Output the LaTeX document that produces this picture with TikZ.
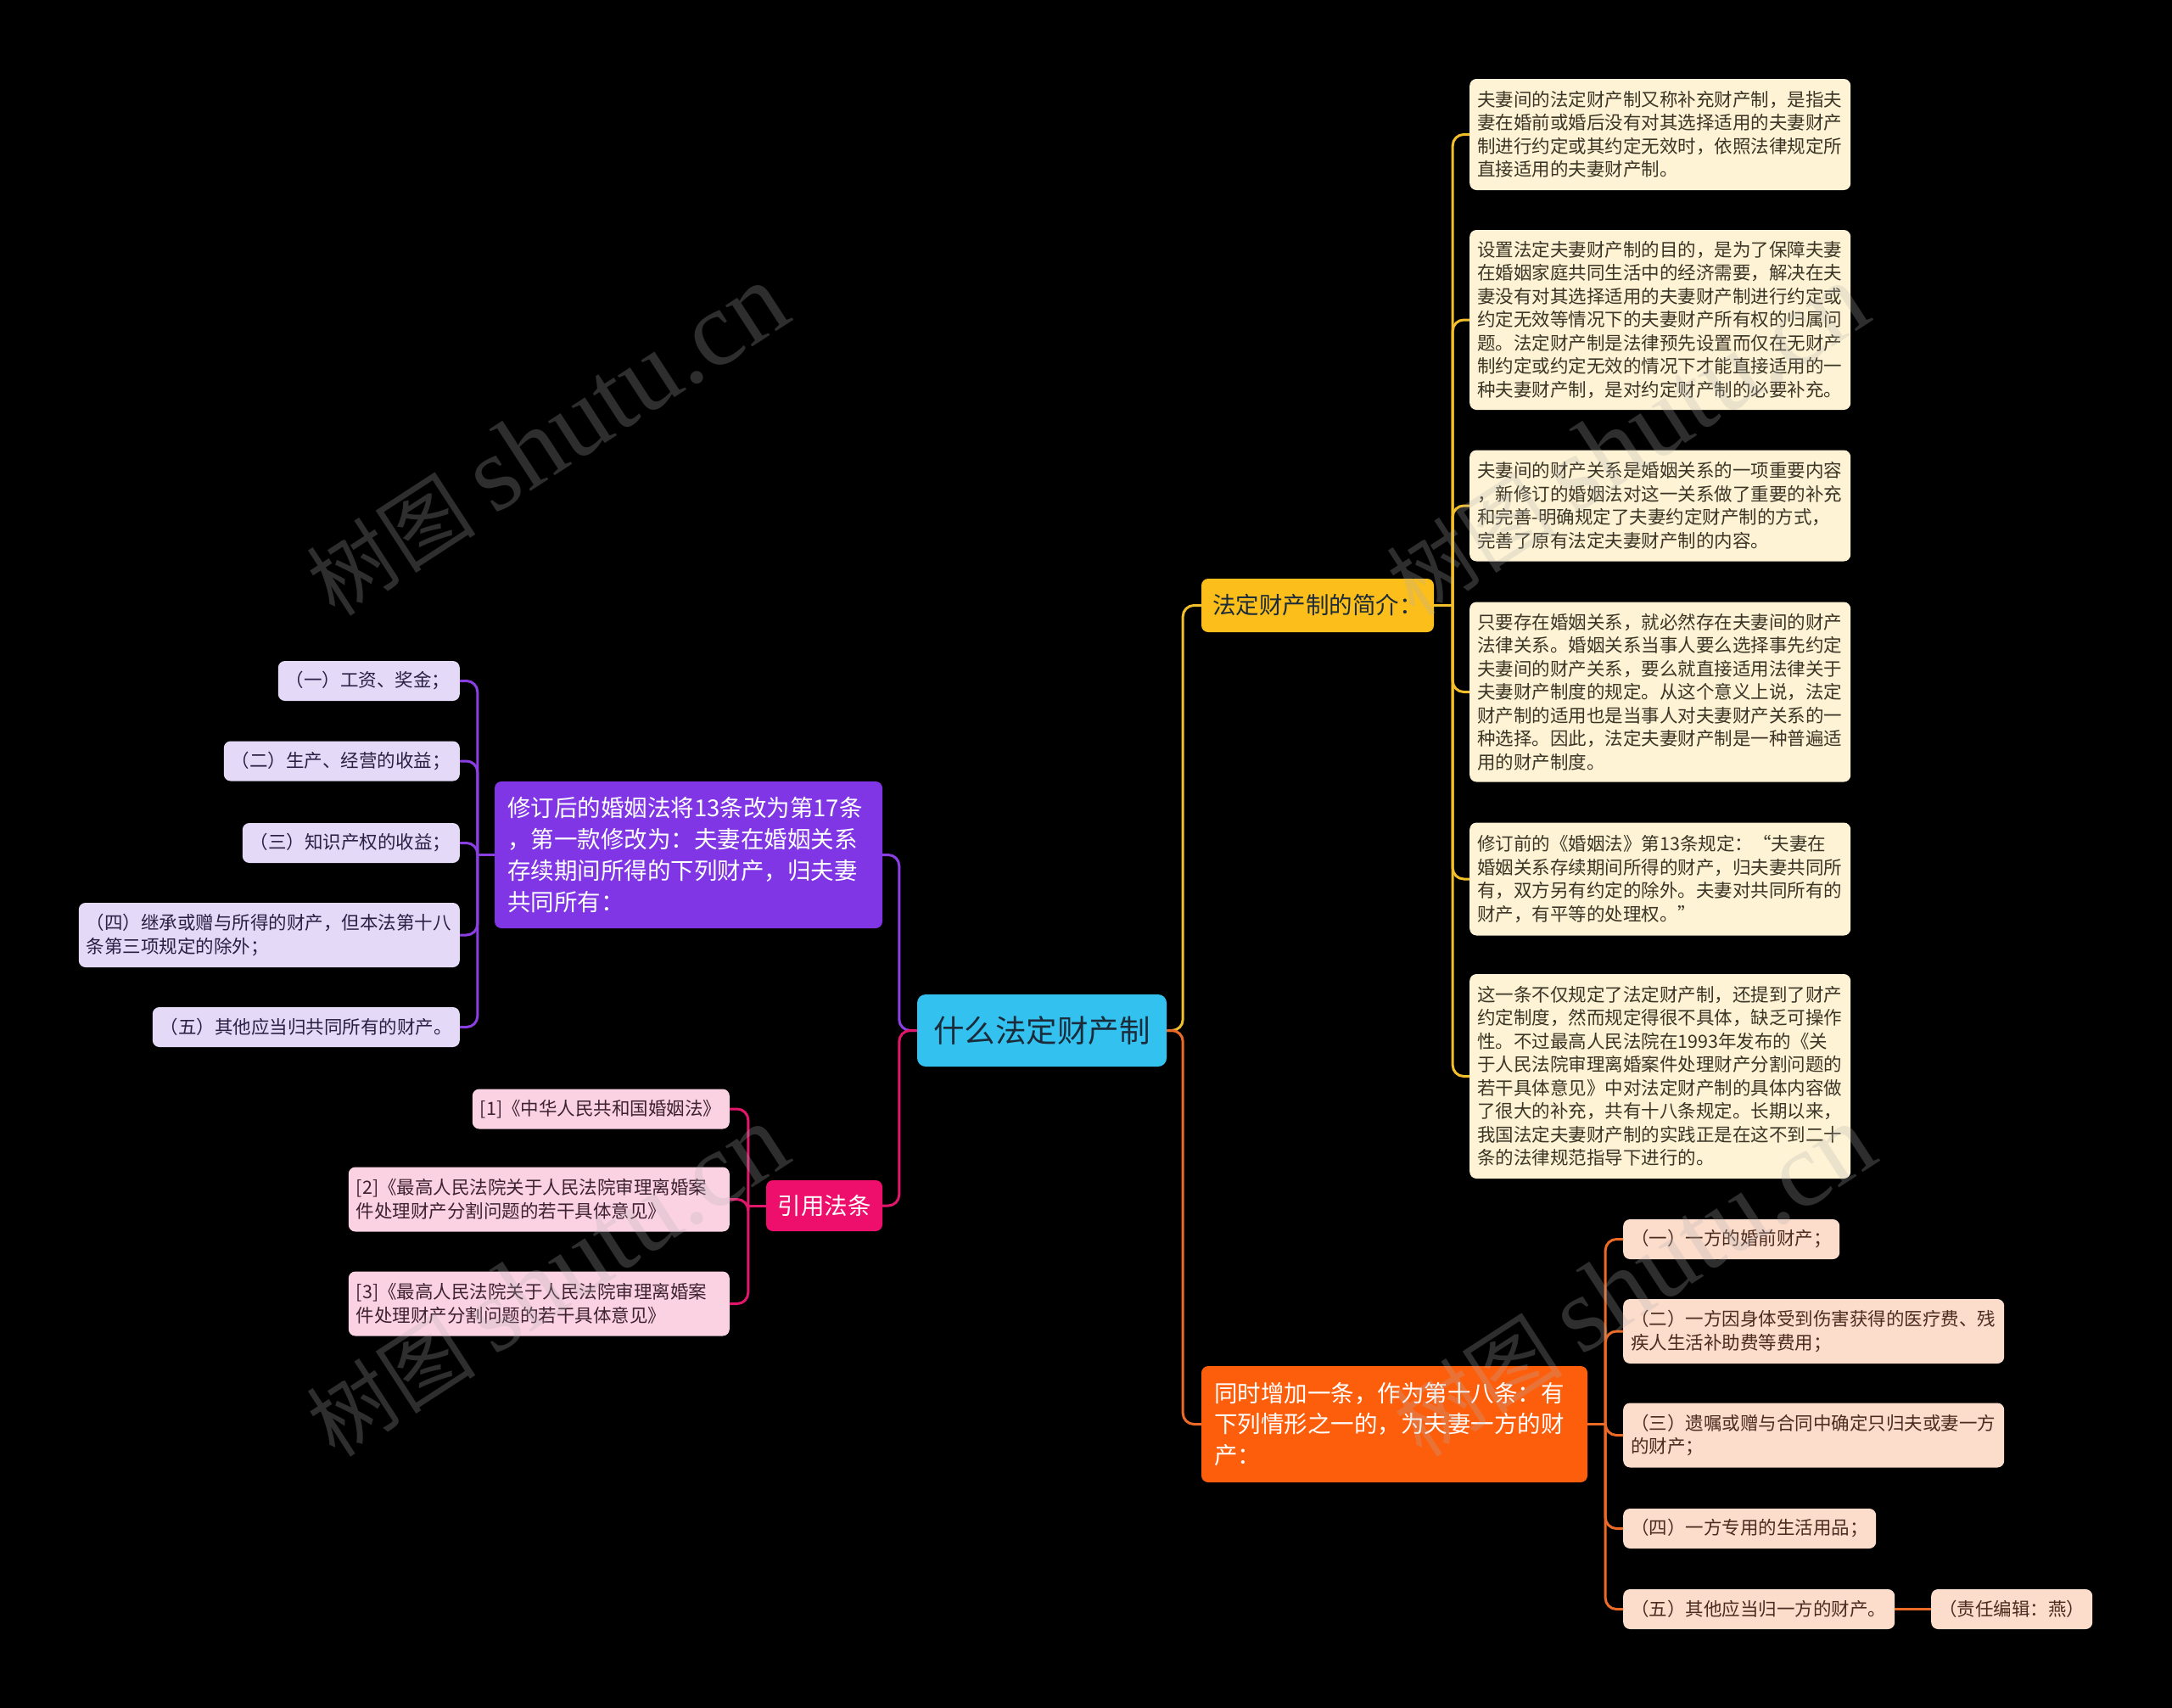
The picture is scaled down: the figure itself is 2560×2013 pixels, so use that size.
\documentclass[tikz,border=0pt]{standalone}
\usepackage{fontspec}
\setmainfont{Noto Sans CJK SC}
\newfontfamily\wmlat{Liberation Serif}
\newfontfamily\wmcjk{Noto Sans CJK SC}
\definecolor{cRoot}{HTML}{33C2F0}
\definecolor{cRootT}{HTML}{1B2B3A}
\definecolor{cYel}{HTML}{FBBE1A}
\definecolor{cYelL}{HTML}{FEF3D5}
\definecolor{cYelLine}{HTML}{F2BF2A}
\definecolor{cYelT}{HTML}{3B3526}
\definecolor{cOra}{HTML}{FD5E0C}
\definecolor{cOraL}{HTML}{FCDCCB}
\definecolor{cOraLine}{HTML}{EC6A28}
\definecolor{cOraT}{HTML}{4A2C20}
\definecolor{cPur}{HTML}{8036E4}
\definecolor{cPurL}{HTML}{E4D9F6}
\definecolor{cPurLine}{HTML}{8B3FE3}
\definecolor{cPurT}{HTML}{2C1F45}
\definecolor{cPnk}{HTML}{EE0E6B}
\definecolor{cPnkL}{HTML}{FBD2E2}
\definecolor{cPnkLine}{HTML}{E2176C}
\definecolor{cPnkT}{HTML}{3E2230}
\tikzset{
  leaf/.style={rounded corners=8pt, inner xsep=9pt, inner ysep=0pt, align=left,
    font=\fontsize{21.5}{27.5}\selectfont},
  mainbox/.style={rounded corners=8pt, inner xsep=15pt, inner ysep=0pt, align=left,
    font=\fontsize{27.5}{36.7}\selectfont},
  conn/.style={line width=3pt, rounded corners=13pt},
  wm/.style={text=gray!60, opacity=0.26, inner sep=0pt}
}
\begin{document}
\begin{tikzpicture}[x=1pt,y=-1pt]
\fill[black] (0,0) rectangle (2560,2013);
\useasboundingbox (0,0) rectangle (2560,2013);

% root
\node[fill=cRoot, text=cRootT, rounded corners=10pt, minimum width=294pt, minimum height=85pt, inner sep=0pt, font=\fontsize{36.5}{44}\selectfont] (root) at (1228,1214.5) {什么法定财产制};

% level 1
\node[mainbox, fill=cYel, text=cRootT, minimum width=274pt, minimum height=63pt, align=center, inner xsep=0pt] (yl1) at (1553,713.5) {法定财产制的简介：};
\node[mainbox, fill=cOra, text=white, text width=425pt, minimum height=137pt] (ol1) at (1643.5,1678.5) {同时增加一条，作为第十八条：有\\下列情形之一的，为夫妻一方的财\\产：};
\node[mainbox, fill=cPur, text=white, text width=427pt, minimum height=173pt] (pl1) at (811.5,1007.5) {修订后的婚姻法将13条改为第17条\\，第一款修改为：夫妻在婚姻关系\\存续期间所得的下列财产，归夫妻\\共同所有：};
\node[mainbox, fill=cPnk, text=white, minimum width=137pt, minimum height=60pt, align=center, inner xsep=0pt] (pk1) at (971.5,1421) {引用法条};

% yellow children
\begin{scope}[every node/.style={leaf, fill=cYelL, text=cYelT, text width=431pt, anchor=west}]
\node[minimum height=131pt] (y1) at (1732,158.5) {夫妻间的法定财产制又称补充财产制，是指夫\\妻在婚前或婚后没有对其选择适用的夫妻财产\\制进行约定或其约定无效时，依照法律规定所\\直接适用的夫妻财产制。};
\node[minimum height=212pt] (y2) at (1732,377) {设置法定夫妻财产制的目的，是为了保障夫妻\\在婚姻家庭共同生活中的经济需要，解决在夫\\妻没有对其选择适用的夫妻财产制进行约定或\\约定无效等情况下的夫妻财产所有权的归属问\\题。法定财产制是法律预先设置而仅在无财产\\制约定或约定无效的情况下才能直接适用的一\\种夫妻财产制，是对约定财产制的必要补充。};
\node[minimum height=131pt] (y3) at (1732,596) {夫妻间的财产关系是婚姻关系的一项重要内容\\，新修订的婚姻法对这一关系做了重要的补充\\和完善-明确规定了夫妻约定财产制的方式，\\完善了原有法定夫妻财产制的内容。};
\node[minimum height=212pt] (y4) at (1732,815.5) {只要存在婚姻关系，就必然存在夫妻间的财产\\法律关系。婚姻关系当事人要么选择事先约定\\夫妻间的财产关系，要么就直接适用法律关于\\夫妻财产制度的规定。从这个意义上说，法定\\财产制的适用也是当事人对夫妻财产关系的一\\种选择。因此，法定夫妻财产制是一种普遍适\\用的财产制度。};
\node[minimum height=133pt] (y5) at (1732,1036) {修订前的《婚姻法》第13条规定：“夫妻在\\婚姻关系存续期间所得的财产，归夫妻共同所\\有，双方另有约定的除外。夫妻对共同所有的\\财产，有平等的处理权。”};
\node[minimum height=241pt] (y6) at (1732,1268.5) {这一条不仅规定了法定财产制，还提到了财产\\约定制度，然而规定得很不具体，缺乏可操作\\性。不过最高人民法院在1993年发布的《关\\于人民法院审理离婚案件处理财产分割问题的\\若干具体意见》中对法定财产制的具体内容做\\了很大的补充，共有十八条规定。长期以来，\\我国法定夫妻财产制的实践正是在这不到二十\\条的法律规范指导下进行的。};
\end{scope}

% orange children
\begin{scope}[every node/.style={leaf, fill=cOraL, text=cOraT, anchor=west}]
\node[text width=237pt, minimum height=47pt] (o1) at (1913,1460.5) {（一）一方的婚前财产；};
\node[text width=431pt, minimum height=76pt] (o2) at (1913,1569) {（二）一方因身体受到伤害获得的医疗费、残\\疾人生活补助费等费用；};
\node[text width=431pt, minimum height=76pt] (o3) at (1913,1691.5) {（三）遗嘱或赠与合同中确定只归夫或妻一方\\的财产；};
\node[text width=280pt, minimum height=47pt] (o4) at (1913,1801.5) {（四）一方专用的生活用品；};
\node[text width=302pt, minimum height=47pt] (o5) at (1913,1896.5) {（五）其他应当归一方的财产。};
\node[text width=172pt, minimum height=47pt] (oe) at (2276,1896.5) {（责任编辑：燕）};
\end{scope}

% purple children
\begin{scope}[every node/.style={leaf, fill=cPurL, text=cPurT, anchor=east}]
\node[text width=196pt, minimum height=47pt] (p1) at (542,802.5) {（一）工资、奖金；};
\node[text width=260pt, minimum height=47pt] (p2) at (542,897) {（二）生产、经营的收益；};
\node[text width=238pt, minimum height=47pt] (p3) at (542,993.5) {（三）知识产权的收益；};
\node[text width=431pt, minimum height=76pt] (p4) at (542,1102) {（四）继承或赠与所得的财产，但本法第十八\\条第三项规定的除外；};
\node[text width=344pt, minimum height=47pt] (p5) at (542,1210.5) {（五）其他应当归共同所有的财产。};
\end{scope}

% pink children
\begin{scope}[every node/.style={leaf, fill=cPnkL, text=cPnkT, anchor=east}]
\node[text width=285pt, minimum height=47pt] (k1) at (860,1307) {[1]《中华人民共和国婚姻法》};
\node[text width=431pt, minimum height=76pt] (k2) at (860,1413.5) {[2]《最高人民法院关于人民法院审理离婚案\\件处理财产分割问题的若干具体意见》};
\node[text width=431pt, minimum height=76pt] (k3) at (860,1536.5) {[3]《最高人民法院关于人民法院审理离婚案\\件处理财产分割问题的若干具体意见》};
\end{scope}

% connectors root -> level 1
\draw[conn, cYelLine] (root.east) -- ++(19,0) |- (yl1.west);
\draw[conn, cOraLine] (root.east) -- ++(19,0) |- (ol1.west);
\draw[conn, cPurLine] (root.west) -- ++(-21,0) |- (pl1.east);
\draw[conn, cPnkLine] (root.west) -- ++(-21,0) |- (pk1.east);

% yellow
\draw[conn, cYelLine] (yl1.east) -- ++(22,0) coordinate (yt);
\foreach \n in {y1,y2,y3,y4,y5,y6} \draw[conn, cYelLine] (yt) |- (\n.west);
% orange
\draw[conn, cOraLine] (ol1.east) -- ++(21,0) coordinate (ot);
\foreach \n in {o1,o2,o3,o4,o5} \draw[conn, cOraLine] (ot) |- (\n.west);
\draw[conn, cOraLine] (o5.east) -- (oe.west);
% purple
\draw[conn, cPurLine] (pl1.west) -- ++(-20,0) coordinate (pt);
\foreach \n in {p1,p2,p3,p4,p5} \draw[conn, cPurLine] (pt) |- (\n.east);
% pink
\draw[conn, cPnkLine] (pk1.west) -- ++(-21,0) coordinate (kt);
\foreach \n in {k1,k2,k3} \draw[conn, cPnkLine] (kt) |- (\n.east);

% watermarks
\foreach \p in {(645,519),(1918,519),(645,1510),(1926,1510)}
  \node[wm, rotate=33] at \p {{\wmcjk\fontsize{100}{104}\selectfont 树图}\hspace{22pt}{\wmlat\fontsize{126}{130}\selectfont shutu.cn}};
\end{tikzpicture}
\end{document}
